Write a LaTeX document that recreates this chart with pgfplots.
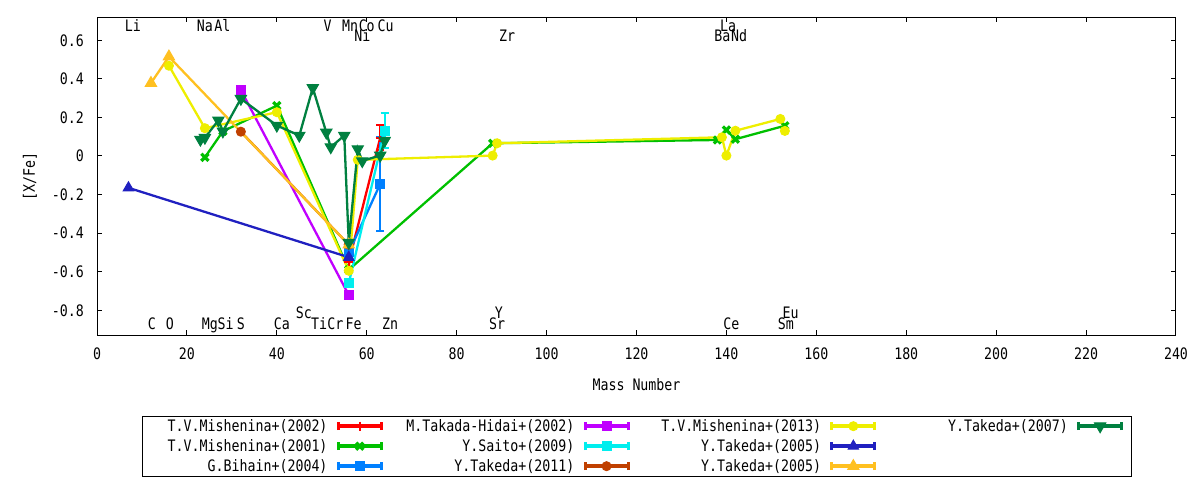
\documentclass[border=0pt]{standalone}
\usepackage{fontspec}
\setmainfont{DejaVu Sans Mono}[FakeStretch=0.84]
\usepackage{pgfplots}
\pgfplotsset{compat=1.18}
\definecolor{cRed}{HTML}{FF0000}
\definecolor{cGreen}{HTML}{00C000}
\definecolor{cBihain}{HTML}{0080FF}
\definecolor{cPurple}{HTML}{C000FF}
\definecolor{cCyan}{HTML}{00EEEE}
\definecolor{cBrown}{HTML}{C04000}
\definecolor{cYellow}{HTML}{EEEE00}
\definecolor{cBlue}{HTML}{2020C0}
\definecolor{cOrange}{HTML}{FFC020}
\definecolor{cDk}{HTML}{008040}
\pgfplotsset{
 sRed/.style={color=cRed, line width=2.3bp, mark=+, mark size=4.5bp, mark options={solid, line width=2bp}},
 sGreen/.style={color=cGreen, line width=2.3bp, mark=x, mark size=5bp, mark options={solid, line width=3.2bp}},
 sBihain/.style={color=cBihain, line width=2.3bp, mark=square*, mark size=4.5bp, mark options={solid, line width=1bp, fill=cBihain}},
 sPurple/.style={color=cPurple, line width=2.3bp, mark=square*, mark size=4.5bp, mark options={solid, line width=1bp, fill=cPurple}},
 sCyan/.style={color=cCyan, line width=2.3bp, mark=square*, mark size=4.5bp, mark options={solid, line width=1bp, fill=cCyan}},
 sBrown/.style={color=cBrown, line width=2.3bp, mark=*, mark size=4.5bp, mark options={solid, line width=1bp, fill=cBrown}},
 sYellow/.style={color=cYellow, line width=2.3bp, mark=*, mark size=4.5bp, mark options={solid, line width=1bp, fill=cYellow}},
 sBlue/.style={color=cBlue, line width=2.3bp, mark=triangle*, mark size=6bp, mark options={solid, line width=1bp, fill=cBlue}},
 sOrange/.style={color=cOrange, line width=2.3bp, mark=triangle*, mark size=6.5bp, mark options={solid, line width=1bp, fill=cOrange}},
 sDk/.style={color=cDk, line width=2.3bp, mark=triangle*, mark size=6.5bp, mark options={solid, line width=1bp, fill=cDk, rotate=180}},
 errb/.style={error bars/.cd, y dir=both, y explicit, error mark=-,
   error bar style={line width=2.3bp, solid},
   error mark options={rotate=90, line width=2.3bp, mark size=4bp, solid}, /pgfplots/.cd},
}
\tikzset{lbl/.style={anchor=base, inner sep=0pt}}
\newcommand{\LE}[2]{\makebox[#1][r]{#2\hspace{9bp}}\rule[-4.5bp]{0pt}{20bp}}
\begin{document}
\fontsize{15.8bp}{19bp}\selectfont
\begin{tikzpicture}
\useasboundingbox (0,0) rectangle (1200bp,480bp);
\begin{axis}[
 at={(97bp,145bp)}, anchor=south west,
 width=1079bp, height=317.7bp, scale only axis,
 xmin=0, xmax=240, ymin=-0.928, ymax=0.719,
 clip=false,
 xtick={0,20,40,60,80,100,120,140,160,180,200,220,240},
 xticklabels={0,20,40,60,80,100,120,140,160,180,200,220,240},
 ytick={-0.8,-0.6,-0.4,-0.2,0,0.2,0.4,0.6},
 yticklabels={-0.8,-0.6,-0.4,-0.2,0,0.2,0.4,0.6},
 xtick pos=both, ytick pos=both,
 xticklabel pos=bottom, yticklabel pos=left,
 tick align=inside, major tick length=5bp,
 tick style={black, line width=1bp},
 axis line style={line width=1bp},
 xticklabel style={anchor=north, inner sep=0pt, yshift=-12.5bp},
 yticklabel style={anchor=east, inner sep=0pt, xshift=-13bp},
 xlabel={Mass Number},
 xlabel style={at={(axis description cs:0.5,0)}, anchor=north, inner sep=0pt, yshift=-43bp},
 ylabel={[X/Fe]},
 ylabel style={at={(axis description cs:-0.0621,0.5)}, anchor=center, inner sep=0pt},
 legend columns=4,
 legend plot pos=right,
 legend image code/.code={
   \draw[#1, mark=none, line width=3.5bp] (0bp,0bp) -- (43bp,0bp);
   \draw[#1, mark=none, line width=3bp] (0bp,-4bp) -- (0bp,4bp) (43bp,-4bp) -- (43bp,4bp);
   \draw[#1, line width=3.5bp] plot coordinates {(21.5bp,0bp)};
 },
 legend style={at={(0.0417,-0.254)}, anchor=north west, draw=black, line width=1bp,
   inner xsep=8bp, inner ysep=0pt, column sep=0pt, row sep=0pt,
   cells={anchor=center}, nodes={inner sep=0pt, text depth=, text height=}},
]
% T.V.Mishenina+(2002)
\addplot[sRed, forget plot, errb] coordinates {(56,-0.55) (63,0.095) +- (0,0.065)};
% T.V.Mishenina+(2001)
\addplot[sGreen, forget plot] coordinates {(24,-0.007) (28,0.128) (40,0.261) (56,-0.59) (88,0.066) (138,0.083) (140,0.135) (142,0.087) (153,0.157)};
% G.Bihain+(2004)
\addplot[sBihain, forget plot, errb] coordinates {(56,-0.50) (63,-0.145) +- (0,0.244)};
% M.Takada-Hidai+(2002)
\addplot[sPurple, forget plot] coordinates {(32,0.342) (56,-0.721)};
% Y.Saito+(2009)
\addplot[sCyan, forget plot, errb] coordinates {(56,-0.66) (64,0.132) +- (0,0.091)};
% Y.Takeda+(2011)
\addplot[sBrown, forget plot] coordinates {(32,0.126) (56,-0.46)};
% T.V.Mishenina+(2013)
\addplot[sYellow, forget plot] coordinates {(16,0.468) (24,0.144) (40,0.227) (56,-0.595) (58,-0.02) (88,0.002) (89,0.066) (139,0.097) (140,0.002) (142,0.131) (152,0.192) (153,0.130)};
% Y.Takeda+(2005) blue
\addplot[sBlue, forget plot] coordinates {(7,-0.165) (56,-0.525)};
% Y.Takeda+(2005) orange
\addplot[sOrange, forget plot] coordinates {(12,0.378) (16,0.515) (56,-0.46)};
% Y.Takeda+(2007)
\addplot[sDk, forget plot] coordinates {(23,0.085) (24,0.095) (27,0.185) (28,0.128) (32,0.297) (40,0.158) (45,0.106) (48,0.353) (51,0.122) (52,0.046) (55,0.106) (56,-0.449) (58,0.036) (59,-0.026) (63,0.003) (64,0.08)};

\addlegendimage{sRed} \addlegendentry{\LE{186bp}{T.V.Mishenina+(2002)}}
\addlegendimage{sPurple} \addlegendentry{\LE{200.3bp}{M.Takada-Hidai+(2002)}}
\addlegendimage{sYellow} \addlegendentry{\LE{200.3bp}{T.V.Mishenina+(2013)}}
\addlegendimage{sDk} \addlegendentry{\LE{200.3bp}{Y.Takeda+(2007)}}
\addlegendimage{sGreen} \addlegendentry{\LE{186bp}{T.V.Mishenina+(2001)}}
\addlegendimage{sCyan} \addlegendentry{\LE{200.3bp}{Y.Saito+(2009)}}
\addlegendimage{sBlue} \addlegendentry{\LE{200.3bp}{Y.Takeda+(2005)}}
\addlegendimage{empty legend} \addlegendentry{}
\addlegendimage{sBihain} \addlegendentry{\LE{186bp}{G.Bihain+(2004)}}
\addlegendimage{sBrown} \addlegendentry{\LE{200.3bp}{Y.Takeda+(2011)}}
\addlegendimage{sOrange} \addlegendentry{\LE{200.3bp}{Y.Takeda+(2005)}}

% element labels, top rows
\node[lbl] at (axis cs:7.96,0.6445) {Li};
\node[lbl] at (axis cs:24.0,0.6445) {Na};
\node[lbl] at (axis cs:27.9,0.6445) {Al};
\node[lbl] at (axis cs:51.3,0.6445) {V};
\node[lbl] at (axis cs:56.3,0.6445) {Mn};
\node[lbl] at (axis cs:60.0,0.6445) {Co};
\node[lbl] at (axis cs:64.2,0.6445) {Cu};
\node[lbl] at (axis cs:140.4,0.6445) {La};
\node[lbl] at (axis cs:59.05,0.596) {Ni};
\node[lbl] at (axis cs:91.2,0.596) {Zr};
\node[lbl] at (axis cs:139.1,0.596) {Ba};
\node[lbl] at (axis cs:142.8,0.596) {Nd};
% bottom rows
\node[lbl] at (axis cs:12.2,-0.902) {C};
\node[lbl] at (axis cs:16.2,-0.902) {O};
\node[lbl] at (axis cs:25.1,-0.902) {Mg};
\node[lbl] at (axis cs:28.6,-0.902) {Si};
\node[lbl] at (axis cs:32.0,-0.902) {S};
\node[lbl] at (axis cs:41.1,-0.902) {Ca};
\node[lbl] at (axis cs:49.4,-0.902) {Ti};
\node[lbl] at (axis cs:53.0,-0.902) {Cr};
\node[lbl] at (axis cs:57.1,-0.902) {Fe};
\node[lbl] at (axis cs:65.2,-0.902) {Zn};
\node[lbl] at (axis cs:89.0,-0.902) {Sr};
\node[lbl] at (axis cs:141.1,-0.902) {Ce};
\node[lbl] at (axis cs:153.2,-0.902) {Sm};
\node[lbl] at (axis cs:46.0,-0.840) {Sc};
\node[lbl] at (axis cs:89.4,-0.840) {Y};
\node[lbl] at (axis cs:154.3,-0.840) {Eu};
\end{axis}
\end{tikzpicture}
\end{document}
